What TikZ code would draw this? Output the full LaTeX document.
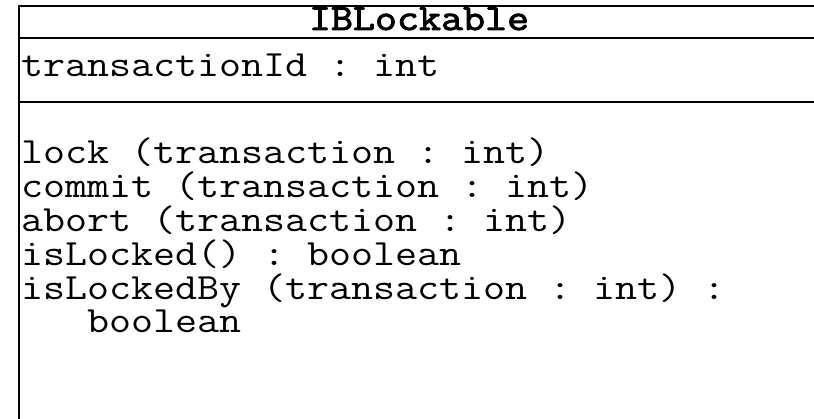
\documentclass[tikz,border=0pt]{standalone}
\usepackage{fontspec}
\setmonofont[FakeStretch=1.155]{Latin Modern Mono}
\newfontfamily\umltitlefont[FakeStretch=1.155,FakeBold=2.5]{Latin Modern Mono}
\begin{document}
\begin{tikzpicture}[x=1pt,y=-1pt,
  umltext/.style={anchor=base west,inner sep=0pt,outer sep=0pt,font=\ttfamily\fontsize{37}{34}\selectfont},
  umltitle/.style={anchor=base,inner sep=0pt,outer sep=0pt,font=\umltitlefont\fontsize{37}{34}\selectfont},
  umlline/.style={line width=1.6pt,draw=black}]
\useasboundingbox (0,0) rectangle (814,419);
\fill[white] (0,0) rectangle (814,419);
\coordinate (tl) at (19,6);
\coordinate (tr) at (814,6);
\coordinate (bl) at (19,419);
\coordinate (s1l) at (19,38);
\coordinate (s1r) at (814,38);
\coordinate (s2l) at (19,102);
\coordinate (s2r) at (814,102);
\draw[umlline] (tr) -- (tl) -- (bl);
\draw[umlline] (s1l) -- (s1r);
\draw[umlline] (s2l) -- (s2r);
\node[umltitle] (title) at (419,30) {IBLockable};
\node[umltext] (attr) at (21,77) {transactionId : int};
\node[umltext] (op1) at (21,164) {lock (transaction : int)};
\node[umltext] (op2) at (21,198) {commit (transaction : int)};
\node[umltext] (op3) at (21,232) {abort (transaction : int)};
\node[umltext] (op4) at (21,266) {isLocked() : boolean};
\node[umltext] (op5) at (21,300) {isLockedBy (transaction : int) :};
\node[umltext] (op6) at (21,333) {\phantom{xxx}boolean};
\end{tikzpicture}
\end{document}
